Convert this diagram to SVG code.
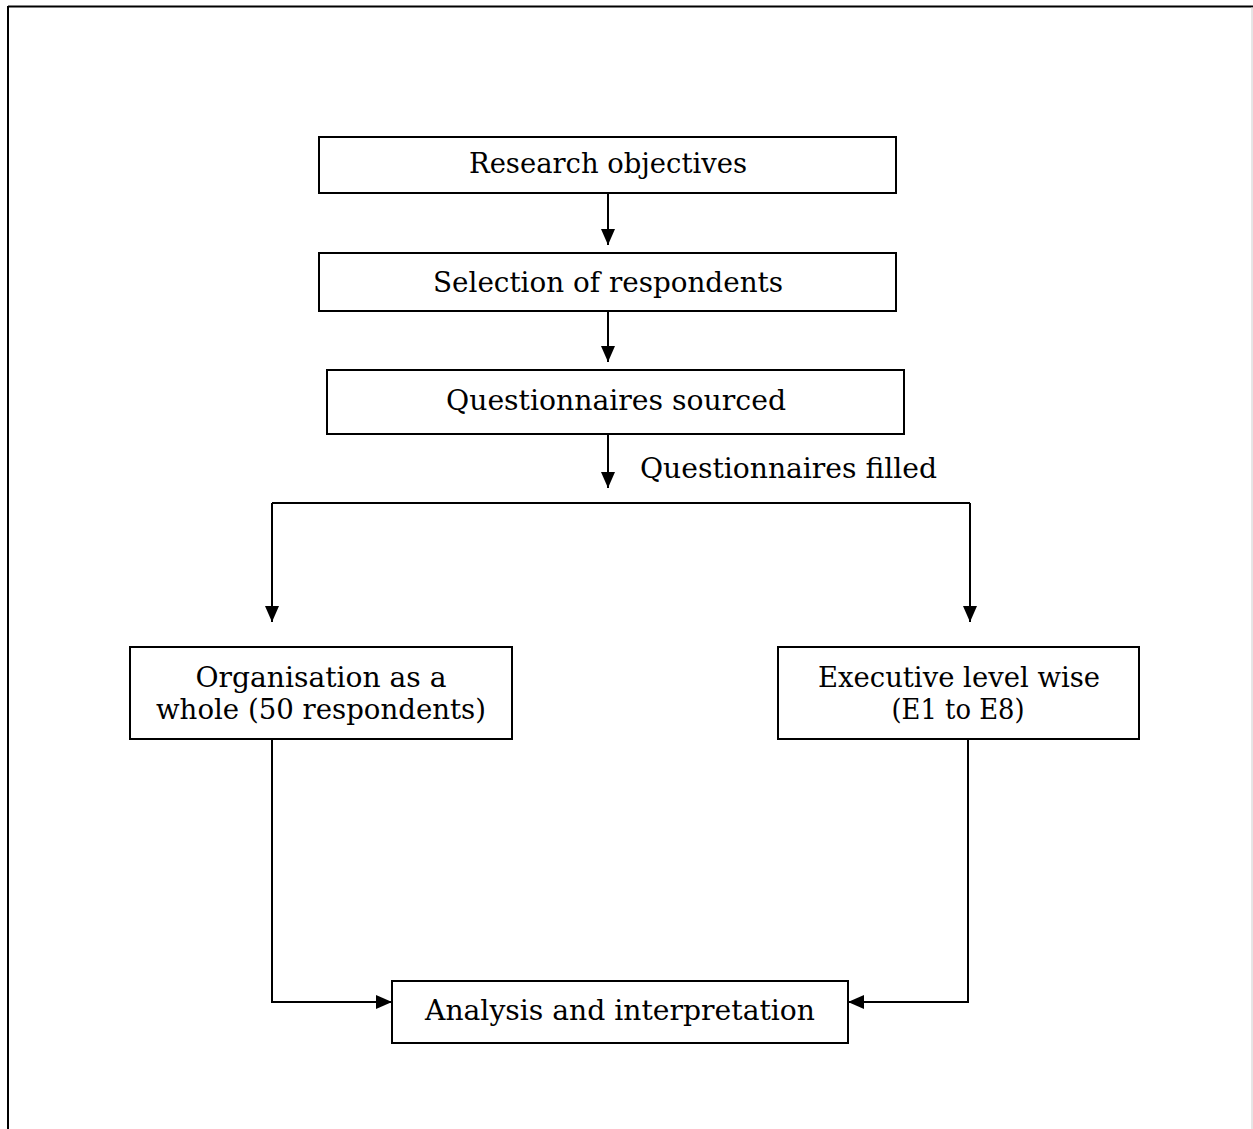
<svg xmlns="http://www.w3.org/2000/svg" width="1253" height="1129" viewBox="0 0 1253 1129">
<style>
.box{fill:#fff;stroke:#000;stroke-width:2}
.t{font-family:"DejaVu Serif","Liberation Serif",serif;font-size:27.5px;fill:#000;text-anchor:middle}
.c{fill:none;stroke:#000;stroke-width:2}
</style>
<defs>
<marker id="ah" markerWidth="16" markerHeight="14" refX="16" refY="7" orient="auto" markerUnits="userSpaceOnUse" viewBox="0 0 16 14">
<path d="M0,0 L16,7 L0,14 z" fill="#000"/>
</marker>
</defs>
<rect width="1253" height="1129" fill="#fff"/>
<g id="frame">
<line x1="8" y1="6.5" x2="1253" y2="6.5" stroke="#000" stroke-width="2"/>
<line x1="8" y1="6" x2="8" y2="1129" stroke="#000" stroke-width="2"/>
<line x1="1252" y1="7" x2="1252" y2="1129" stroke="#ccc" stroke-width="1"/>
</g>
<g id="n1"><rect class="box" x="319" y="137" width="577" height="56"/><text class="t" x="608" y="173" textLength="278" lengthAdjust="spacingAndGlyphs">Research objectives</text></g>
<g id="n2"><rect class="box" x="319" y="253" width="577" height="58"/><text class="t" x="608" y="292" textLength="350" lengthAdjust="spacingAndGlyphs">Selection of respondents</text></g>
<g id="n3"><rect class="box" x="327" y="370" width="577" height="64"/><text class="t" x="616" y="410" textLength="340" lengthAdjust="spacingAndGlyphs">Questionnaires sourced</text></g>
<g id="n4"><rect class="box" x="130" y="647" width="382" height="92"/><text class="t" x="321" y="687" textLength="251" lengthAdjust="spacingAndGlyphs">Organisation as a</text><text class="t" x="321" y="719" textLength="330" lengthAdjust="spacingAndGlyphs">whole (50 respondents)</text></g>
<g id="n5"><rect class="box" x="778" y="647" width="361" height="92"/><text class="t" x="959" y="687" textLength="282" lengthAdjust="spacingAndGlyphs">Executive level wise</text><text class="t" x="958" y="719" textLength="133" lengthAdjust="spacingAndGlyphs">(E1 to E8)</text></g>
<g id="n6"><rect class="box" x="392" y="981" width="456" height="62"/><text class="t" x="620" y="1020" textLength="390" lengthAdjust="spacingAndGlyphs">Analysis and interpretation</text></g>
<g id="connectors">
<line class="c" x1="608" y1="193" x2="608" y2="245" marker-end="url(#ah)"/>
<line class="c" x1="608" y1="311" x2="608" y2="362" marker-end="url(#ah)"/>
<line class="c" x1="608" y1="434" x2="608" y2="488" marker-end="url(#ah)"/>
<text class="t" x="640" y="478" style="text-anchor:start" textLength="297" lengthAdjust="spacingAndGlyphs">Questionnaires filled</text>
<polyline class="c" points="272,503 970,503"/>
<line class="c" x1="272" y1="503" x2="272" y2="622" marker-end="url(#ah)"/>
<line class="c" x1="970" y1="503" x2="970" y2="622" marker-end="url(#ah)"/>
<polyline class="c" points="272,739 272,1002 392,1002" marker-end="url(#ah)"/>
<polyline class="c" points="968,739 968,1002 848,1002" marker-end="url(#ah)"/>
</g>
</svg>
